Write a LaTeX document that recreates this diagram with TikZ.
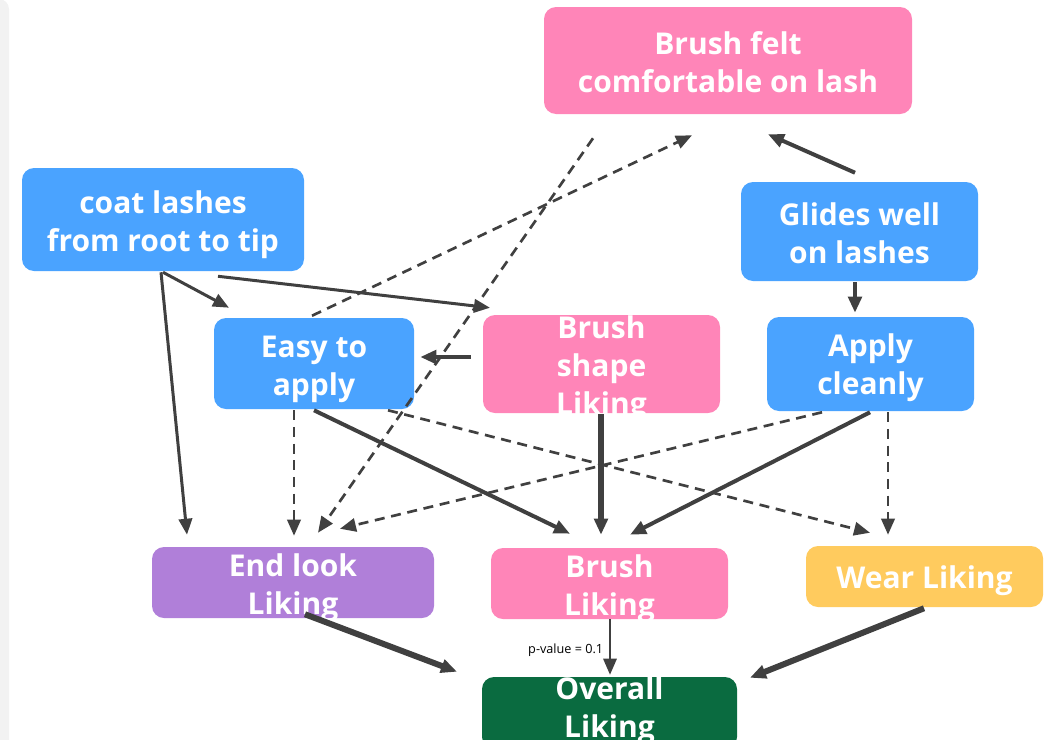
\documentclass[tikz,border=0pt]{standalone}
\usepackage{fontspec}
\setmainfont{Open Sans}
\usetikzlibrary{calc,arrows.meta}

\definecolor{boxblue}{HTML}{4AA3FF}
\definecolor{boxpink}{HTML}{FF85B8}
\definecolor{boxpurple}{HTML}{B07FD9}
\definecolor{boxyellow}{HTML}{FFCB5E}
\definecolor{boxgreen}{HTML}{0A6B40}
\definecolor{linegray}{HTML}{404040}
\definecolor{panelgray}{HTML}{F2F2F2}

\tikzset{
  box/.style={rectangle, rounded corners=9pt, inner sep=0pt},
  boxtext/.style={text=white, inner sep=0pt, align=center,
    font=\fontsize{22.5}{28.5}\selectfont\bfseries},
  link/.style={draw=linegray, line width=2.25pt,
    -{Triangle[length=12pt,width=10pt]}},
  heavy/.style={link, line width=4.5pt},
  mid/.style={link, line width=3pt},
  weak/.style={link, line width=2pt, dash pattern=on 7.5pt off 5pt},
}

\begin{document}
\begin{tikzpicture}[x=0.75pt, y=-0.75pt]
\useasboundingbox (0,0) rectangle (1053,739);
\fill[panelgray, rounded corners=7.5pt] (-20,-1) rectangle (9,760);

% factors
\node[box, fill=boxpink, minimum width=276pt, minimum height=80.25pt,
  label={[boxtext, yshift=-1pt]center:{Brush felt\\comfortable on lash}}] (felt) at (728,60.5) {};
\node[box, fill=boxblue, minimum width=211.5pt, minimum height=77.25pt,
  label={[boxtext, yshift=-4.25pt]center:{coat lashes\\from root to tip}}] (coat) at (163,219.5) {};
\node[box, fill=boxblue, minimum width=177.75pt, minimum height=74.25pt,
  label={[boxtext, yshift=-1pt]center:{Glides well\\on lashes}}] (glides) at (859.5,231.5) {};
\node[box, fill=boxblue, minimum width=150pt, minimum height=68.25pt,
  label={[boxtext, yshift=-4.25pt]center:{Easy to\\apply}}] (easy) at (314,363.5) {};
\node[box, fill=boxpink, minimum width=177.75pt, minimum height=73.5pt,
  label={[boxtext, yshift=-3.5pt]center:{Brush\\shape\\Liking}}] (shape) at (601.5,364) {};
\node[box, fill=boxblue, minimum width=155.25pt, minimum height=70.5pt,
  label={[boxtext, yshift=-3pt]center:{Apply\\cleanly}}] (clean) at (870.5,364) {};

% liking scores
\node[box, fill=boxpurple, minimum width=211.5pt, minimum height=53.25pt,
  label={[boxtext, yshift=-4.25pt]center:{End look\\Liking}}] (endlook) at (293,582.5) {};
\node[box, fill=boxpink, minimum width=177.75pt, minimum height=53.25pt,
  label={[boxtext, yshift=-4.25pt]center:{Brush\\Liking}}] (brushlik) at (609.5,583.5) {};
\node[box, fill=boxyellow, minimum width=177.75pt, minimum height=45.75pt,
  label={[boxtext, yshift=-3.25pt]center:{Wear Liking}}] (wear) at (924.5,576.5) {};
\node[box, fill=boxgreen, minimum width=191.25pt, minimum height=54pt,
  label={[boxtext, yshift=1.5pt]center:{Overall\\Liking}}] (overall) at (609.5,713) {};

% paths
\draw[mid] ($(glides.north)+(-4.5,-9)$) -- ($(felt.south)+(40,20)$);
\draw[weak] ($(easy.north)+(-2,-2)$) -- ($(felt.south)+(-36,21)$);
\draw[weak] ($(felt.south)+(-135,24)$) -- ($(endlook.north)+(25,-14)$);
\draw[link] ($(coat.south)+(0,1)$) -- ($(easy.north)+(-85,-10)$);
\draw[link] ($(coat.south)+(55,5)$) -- ($(shape.north)+(-111.5,-7)$);
\draw[link] ($(coat.south)+(-2,1)$) -- ($(endlook.north)+(-106,-12)$);
\draw[mid] ($(glides.south)+(-4.5,1)$) -- ($(clean.north)+(-15.5,-4)$);
\draw[link, line width=3.5pt] ($(shape.west)+(-12,-7)$) -- ($(easy.east)+(6,-6.5)$);
\draw[weak] ($(easy.south)+(-20,1)$) -- ($(endlook.north)+(1,-11)$);
\draw[mid] ($(easy.south)+(0,1)$) -- ($(brushlik.north)+(-39.5,-14)$);
\draw[weak] ($(easy.south)+(74,1)$) -- ($(wear.north)+(-54.5,-13)$);
\draw[heavy] ($(shape.south)+(-0.5,1)$) -- ($(brushlik.north)+(-8.5,-13)$);
\draw[weak] ($(clean.south)+(-48.5,1)$) -- ($(endlook.north)+(47,-18)$);
\draw[mid] ($(clean.south)+(-0.5,1)$) -- ($(brushlik.north)+(20.5,-13)$);
\draw[weak] ($(clean.south)+(17.5,1)$) -- ($(wear.north)+(-36.5,-11)$);
\draw[heavy] ($(endlook.south)+(12,-4)$) -- ($(overall.north)+(-152.5,-5)$);
\draw[link, line width=1.5pt] ($(brushlik.south)+(0.5,0)$) -- ($(overall.north)+(0.5,-2)$)
  node[pos=0.55, left=1pt, font=\fontsize{9.5}{11}\selectfont, text=black] (pval) {p-value = 0.1};
\draw[heavy] ($(wear.south)+(-0.5,1)$) -- ($(overall.north)+(140.5,1)$);
\end{tikzpicture}
\end{document}
